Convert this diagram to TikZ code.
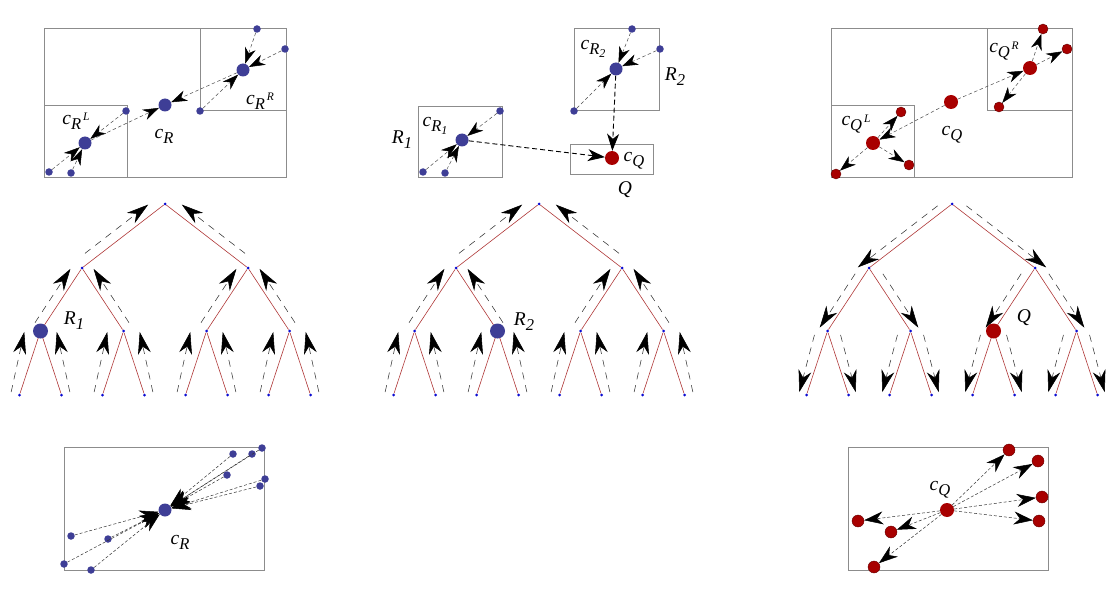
\documentclass[tikz,border=0pt]{standalone}
\usepackage{fontspec}
\setmainfont{Liberation Serif}
\usetikzlibrary{arrows.meta}
\definecolor{ptblue}{RGB}{62,62,150}
\definecolor{ptred}{RGB}{168,0,0}
\definecolor{edgered}{RGB}{175,55,55}
\definecolor{nodeblue}{RGB}{10,10,210}
% Mathematica-like sub- and superscripts
\newcommand{\lsub}[1]{\raisebox{-5pt}{\fontsize{16.5}{16.5}\selectfont #1}}
\newcommand{\lsup}[1]{\raisebox{8.5pt}{\fontsize{11.5}{11.5}\selectfont\,#1}}
\newcommand{\lsubsub}[1]{\raisebox{-3pt}{\fontsize{12}{12}\selectfont #1}}

\begin{document}
\begin{tikzpicture}[x=1pt, y=-1pt,
    font=\fontsize{19.5}{22}\selectfont\itshape,
    bbox/.style={draw=black!45, line width=0.6pt},
    rpt/.style={circle, fill=ptblue, inner sep=0pt, minimum size=7.5pt},
    cen/.style={circle, fill=ptblue, inner sep=0pt, minimum size=13pt},
    qpt/.style={circle, fill=ptred, draw=ptred!60!black, line width=0.4pt, inner sep=0pt, minimum size=10pt},
    qcen/.style={circle, fill=ptred, inner sep=0pt, minimum size=14pt},
    tdot/.style={circle, fill=nodeblue, inner sep=0pt, minimum size=3pt},
    tbig/.style={circle, fill=ptblue, inner sep=0pt, minimum size=15pt},
    tbigq/.style={circle, fill=ptred, inner sep=0pt, minimum size=15pt},
    tedge/.style={edgered, line width=0.6pt},
    flow/.style={black!70, line width=0.5pt, dash pattern=on 3.5pt off 2.5pt,
        -{Stealth[length=16pt, width=11pt, inset=5pt, black]}},
    bigflow/.style={black, line width=0.9pt, dash pattern=on 5pt off 3pt,
        -{Stealth[length=17pt, width=12pt, inset=5pt]}},
    wideflow/.style={black!80, line width=0.5pt, dash pattern=on 3pt off 2pt,
        -{Stealth[length=19pt, width=13pt, inset=6pt, black]}},
    treeflow/.style={black!80, line width=0.55pt, dash pattern=on 7pt off 6pt,
        -{Stealth[length=22pt, width=13pt, inset=7pt, black]}},
    lab/.style={inner sep=0pt}
]
\useasboundingbox (0,0) rectangle (1120,599);

% top left: R and its two children
\draw[bbox] (44,28) rectangle (286,177);
\draw[bbox] (44,105) rectangle (127,177);
\draw[bbox] (200,28) rectangle (286,110);
\node[cen] (cr) at (165,105) {};
\node[cen] (crl) at (85,143) {};
\node[cen] (crr) at (243,70) {};
\node[rpt] (rl1) at (49,172) {};
\node[rpt] (rl2) at (71,173) {};
\node[rpt] (rl3) at (126,111) {};
\node[rpt] (rr1) at (257,29) {};
\node[rpt] (rr2) at (285,49) {};
\node[rpt] (rr3) at (200,111) {};
\foreach \p in {rl1,rl2,rl3} \draw[flow] (\p) -- (crl);
\foreach \p in {rr1,rr2,rr3} \draw[flow] (\p) -- (crr);
\draw[flow] (crl) -- (cr);
\draw[flow] (crr) -- (cr);
\node[lab] (crllab) at (76,121) {c\lsub{R\lsup{L}}};
\node[lab] (crlab) at (164,136) {c\lsub{R}};
\node[lab] (crrlab) at (260,101) {c\lsub{R\lsup{R}}};

% top middle: R1, R2 and Q
\draw[bbox] (418,106) rectangle (502,177);
\draw[bbox] (574,28) rectangle (659,110);
\draw[bbox] (570,144) rectangle (653,174);
\node[cen] (cra) at (462,140) {};
\node[cen] (crb) at (616,69) {};
\node[qcen] (cqm) at (612,158) {};
\node[rpt] (ra1) at (423,172) {};
\node[rpt] (ra2) at (445,173) {};
\node[rpt] (ra3) at (500,111) {};
\node[rpt] (rb1) at (632,29) {};
\node[rpt] (rb2) at (660,49) {};
\node[rpt] (rb3) at (574,111) {};
\foreach \p in {ra1,ra2,ra3} \draw[flow] (\p) -- (cra);
\foreach \p in {rb1,rb2,rb3} \draw[flow] (\p) -- (crb);
\draw[bigflow] (cra) -- (cqm);
\draw[bigflow] (crb) -- (cqm);
\node[lab] (cralab) at (435,126) {c\lsub{R\lsubsub{1}}};
\node[lab] (ralab) at (402,140) {R\lsub{1}};
\node[lab] (crblab) at (593,49) {c\lsub{R\lsubsub{2}}};
\node[lab] (rblab) at (675,77) {R\lsub{2}};
\node[lab] (cqmlab) at (634,161) {c\lsub{Q}};
\node[lab] (qmlab) at (625,190) {Q};

% top right: Q and its two children
\draw[bbox] (831,28) rectangle (1072,177);
\draw[bbox] (831,105) rectangle (914,177);
\draw[bbox] (987,28) rectangle (1072,110);
\node[qcen] (cq) at (951,102) {};
\node[qcen] (cql) at (873,143) {};
\node[qcen] (cqr) at (1030,68) {};
\node[qpt] (ql1) at (836,174) {};
\node[qpt] (ql2) at (901,112) {};
\node[qpt] (ql3) at (909,165) {};
\node[qpt] (qr1) at (1043,29) {};
\node[qpt] (qr2) at (1067,49) {};
\node[qpt] (qr3) at (999,107) {};
\draw[flow] (cq) -- (cql);
\draw[flow] (cq) -- (cqr);
\foreach \p in {ql1,ql2,ql3} \draw[flow] (cql) -- (\p);
\foreach \p in {qr1,qr2,qr3} \draw[flow] (cqr) -- (\p);
\node[lab] (cqllab) at (856,124) {c\lsub{Q\lsup{L}}};
\node[lab] (cqlab) at (952,135) {c\lsub{Q}};
\node[lab] (cqrlab) at (1004,51) {c\lsub{Q\lsup{R}}};

% trees passing up
\foreach \t/\X in {ta/165, tb/539} {
  \node[tdot] (\t) at (\X,204) {};
  \foreach \i/\s in {1/-1, 2/1} {
    \node[tdot] (\t\i) at ({\X+\s*83},268) {};
    \draw[tedge] (\t) -- (\t\i);
    \draw[treeflow, shorten <=24pt, shorten >=1pt]
      ([xshift={\s*16pt}]\t\i.center) -- ([xshift={\s*16pt}]\t.center);
    \foreach \j/\u in {1/-1, 2/1} {
      \node[tdot] (\t\i\j) at ({\X+\s*83+\u*41.5},331) {};
      \draw[tedge] (\t\i) -- (\t\i\j);
      \draw[treeflow, shorten <=10pt, shorten >=1pt]
        ([xshift={\u*11pt}]\t\i\j.center) -- ([xshift={\u*11pt}]\t\i.center);
      \foreach \k/\v in {1/-1, 2/1} {
        \node[tdot] (\t\i\j\k) at ({\X+\s*83+\u*41.5+\v*21},395) {};
        \draw[tedge] (\t\i\j) -- (\t\i\j\k);
        \draw[treeflow, shorten <=3pt, shorten >=1pt]
          ([xshift={\v*9pt}]\t\i\j\k.center) -- ([xshift={\v*16pt}]\t\i\j.center);
      }
    }
  }
}
% tree passing down
\foreach \t/\X in {tc/952} {
  \node[tdot] (\t) at (\X,204) {};
  \foreach \i/\s in {1/-1, 2/1} {
    \node[tdot] (\t\i) at ({\X+\s*83},268) {};
    \draw[tedge] (\t) -- (\t\i);
    \draw[treeflow, shorten <=3pt, shorten >=1pt]
      ([xshift={\s*12pt}]\t.center) -- ([xshift={\s*12pt}]\t\i.center);
    \foreach \j/\u in {1/-1, 2/1} {
      \node[tdot] (\t\i\j) at ({\X+\s*83+\u*41.5},331) {};
      \draw[tedge] (\t\i) -- (\t\i\j);
      \draw[treeflow, shorten <=7pt, shorten >=4pt]
        ([xshift={\u*10pt}]\t\i.center) -- ([xshift={\u*10pt}]\t\i\j.center);
      \foreach \k/\v in {1/-1, 2/1} {
        \node[tdot] (\t\i\j\k) at ({\X+\s*83+\u*41.5+\v*21},395) {};
        \draw[tedge] (\t\i\j) -- (\t\i\j\k);
        \draw[treeflow, shorten <=4pt, shorten >=3pt]
          ([xshift={\v*12pt}]\t\i\j.center) -- ([xshift={\v*8pt}]\t\i\j\k.center);
      }
    }
  }
}
\node[tbig] (rone) at (ta11) {};
\node[tbig] (rtwo) at (tb12) {};
\node[tbigq] (qnode) at (tc21) {};
\node[lab] (ronelab) at (74,321) {R\lsub{1}};
\node[lab] (rtwolab) at (524,322) {R\lsub{2}};
\node[lab] (qnodelab) at (1024,318) {Q};

% bottom left: all points of R to c_R
\draw[bbox] (64,447) rectangle (264,570);
\node[cen] (bcr) at (165,510) {};
\foreach \px/\py [count=\n] in {233/454, 252/454, 262/448, 227/475, 265/479,
    260/486, 71/536, 108/539, 64/564, 91/570} {
  \node[rpt] (bl\n) at (\px,\py) {};
  \draw[wideflow] (bl\n) -- (bcr);
}
\node[lab] (bcrlab) at (180,542) {c\lsub{R}};

% bottom right: c_Q to all points of Q
\draw[bbox] (848,447) rectangle (1048,570);
\node[qcen] (bcq) at (947,510) {};
\foreach \px/\py [count=\n] in {1009/450, 1038/461, 1042/497, 1039/521,
    858/521, 891/532, 874/567} {
  \node[qpt, minimum size=12pt] (br\n) at (\px,\py) {};
  \draw[wideflow] (bcq) -- (br\n);
}
\node[lab] (bcqlab) at (940,490) {c\lsub{Q}};
\end{tikzpicture}
\end{document}
